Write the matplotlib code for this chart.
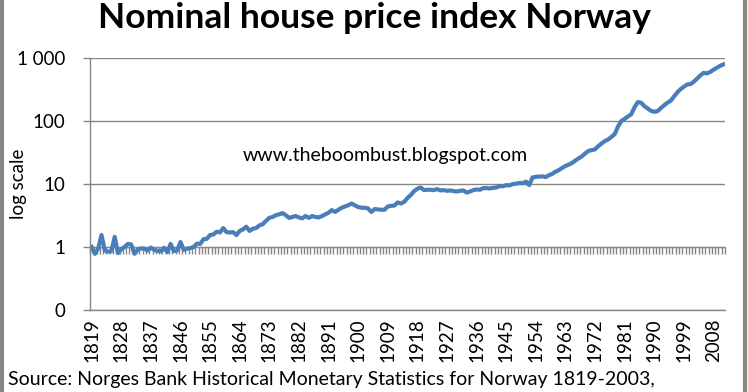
import numpy as np
import matplotlib
matplotlib.use("Agg")
import matplotlib.pyplot as plt
from matplotlib.patches import Rectangle
from matplotlib.ticker import NullLocator

# nominal house price index, one value per year 1819-2011
years = np.arange(1819, 2012)
index_values = [
    1.0, 0.78, 0.95, 1.55, 0.88, 0.84, 0.86, 1.45, 0.8, 0.92,      # 1819-1828
    1.0, 1.12, 1.1, 0.78, 0.9, 0.95, 0.94, 0.88, 0.98, 0.9,        # 1829-1838
    0.87, 0.85, 0.97, 0.83, 1.12, 0.86, 0.88, 1.2, 0.9, 0.94,      # 1839-1848
    0.96, 1.0, 1.13, 1.12, 1.33, 1.35, 1.55, 1.58, 1.75, 1.7,      # 1849-1858
    2.0, 1.72, 1.7, 1.72, 1.55, 1.8, 1.9, 2.1, 1.8, 1.95,          # 1859-1868
    2.0, 2.2, 2.3, 2.6, 2.9, 3.0, 3.2, 3.3, 3.45, 3.2,             # 1869-1878
    2.9, 3.0, 3.1, 2.95, 2.85, 3.1, 2.9, 3.1, 3.0, 2.95,           # 1879-1888
    3.1, 3.3, 3.5, 3.85, 3.6, 3.9, 4.2, 4.4, 4.6, 4.9,             # 1889-1898
    4.6, 4.3, 4.2, 4.2, 4.1, 3.6, 4.0, 3.95, 3.9, 3.9,             # 1899-1908
    4.4, 4.5, 4.55, 5.1, 4.9, 5.2, 6.0, 6.7, 7.7, 8.4,             # 1909-1918
    8.8, 8.0, 8.1, 8.1, 8.0, 8.3, 7.9, 8.0, 7.8, 7.9,              # 1919-1928
    7.7, 7.6, 7.8, 7.9, 7.3, 7.6, 8.0, 8.2, 8.1, 8.6,              # 1929-1938
    8.6, 8.5, 8.7, 8.8, 9.3, 9.2, 9.6, 9.5, 10.0, 10.1,            # 1939-1948
    10.4, 10.3, 10.9, 9.6, 12.7, 13.0, 13.1, 13.2, 12.9, 13.8,     # 1949-1958
    14.5, 15.7, 16.6, 18.0, 19.3, 20.3, 21.5, 23.5, 25.5, 27.5,    # 1959-1968
    30.5, 33.5, 34.5, 35.5, 40.0, 44.0, 48.0, 51.0, 56.0, 62.0,    # 1969-1978
    82.0, 100.0, 108.0, 118.0, 128.0, 165.0, 200.0, 195.0, 172.0, 158.0,  # 1979-1988
    145.0, 140.0, 143.0, 160.0, 178.0, 195.0, 210.0, 245.0, 285.0, 320.0,  # 1989-1998
    350.0, 380.0, 385.0, 420.0, 470.0, 530.0, 580.0, 570.0, 600.0, 650.0,  # 1999-2008
    700.0, 750.0, 790.0,                                                    # 2009-2011
]

y_ticks = [0.1, 1, 10, 100, 1000]
y_tick_labels = ["0", "1", "10", "100", "1 000"]
x_label_years = years[::9]

LINE_BLUE = "#4a7ebb"
GRID_GREY = "#868686"
FONT = ["Lato", "DejaVu Sans"]

plt.rcParams["font.family"] = FONT

fig = plt.figure(figsize=(7.48, 3.92), dpi=100)
ax = fig.add_axes([90 / 748, 1 - 310 / 392, 635 / 748, 252 / 392])

ax.plot(years, index_values, color=LINE_BLUE, linewidth=3, solid_joinstyle="round")

ax.set_yscale("log")
ax.set_ylim(y_ticks[0], y_ticks[-1])
ax.set_xlim(years[0] - 0.5, years[-1] + 0.5)
ax.set_yticks(y_ticks, labels=y_tick_labels)
ax.yaxis.set_minor_locator(NullLocator())
ax.tick_params(axis="y", direction="out", length=5, width=1, color=GRID_GREY,
               pad=13, labelsize=13.5)
ax.grid(axis="y", color=GRID_GREY, linewidth=1)
ax.set_axisbelow(True)

ax.set_xticks(x_label_years, labels=[str(y) for y in x_label_years])
ax.xaxis.set_minor_locator(NullLocator())
ax.tick_params(axis="x", length=0, pad=6, labelsize=13.5, labelrotation=90)

for side in ("top", "right"):
    ax.spines[side].set_visible(False)
for side in ("left", "bottom"):
    ax.spines[side].set_color(GRID_GREY)
    ax.spines[side].set_linewidth(1)

# category axis crosses the value axis at 1: yearly tick marks hang below that line
cross = (np.log10(1) - np.log10(y_ticks[0])) / (np.log10(y_ticks[-1]) - np.log10(y_ticks[0]))
sec = ax.secondary_xaxis(cross)
sec.set_xticks(np.append(years - 0.5, years[-1] + 0.5), labels=[])
sec.xaxis.set_minor_locator(NullLocator())
sec.tick_params(direction="out", length=5, width=1, color=GRID_GREY)
sec.spines["bottom"].set_color(GRID_GREY)

ax.set_ylabel("log scale", fontsize=13.5)
ax.yaxis.set_label_coords(-63 / 635, 0.5)

ax.text(243 / 748, 1 - 155 / 392, "www.theboombust.blogspot.com", transform=fig.transFigure,
        fontsize=14, ha="left", va="center")

fig.text(0.5, 1 - 18 / 392, "Nominal house price index Norway", fontsize=25.5,
         fontweight="bold", ha="center", va="center")
fig.text(8 / 748, 1 - 380 / 392,
         "Source: Norges Bank Historical Monetary Statistics for Norway 1819-2003,",
         fontsize=14, ha="left", va="center")

# outer chart border (only the sides are inside the crop)
fig.patches.append(Rectangle((1.5 / 748, -0.1), 743.5 / 748, 1.2, transform=fig.transFigure,
                             fill=False, edgecolor=GRID_GREY, linewidth=3))

fig.savefig("out.png", dpi=100)
